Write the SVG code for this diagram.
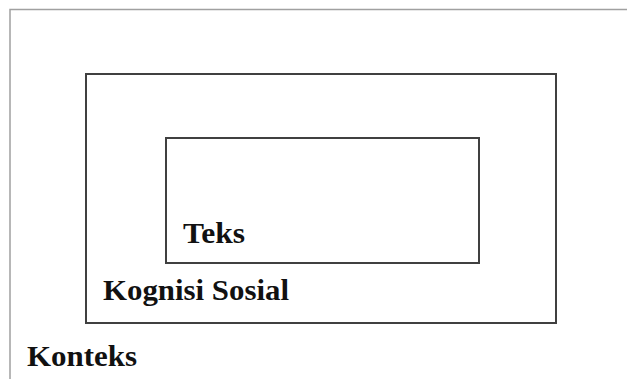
<svg xmlns="http://www.w3.org/2000/svg" width="627" height="379" viewBox="0 0 627 379">
<style>
.box{fill:none;stroke:#404040;stroke-width:2}
.frame{fill:none;stroke:#a0a0a0;stroke-width:1.5}
.lbl{font-family:"Liberation Serif","Times New Roman",serif;font-weight:bold;font-size:29px;fill:#111}
</style>
<rect width="627" height="379" fill="#fff"/>
<g id="konteks">
<path class="frame" d="M10 379 V9.5 H627"/>
<text class="lbl" x="27" y="366" textLength="110" lengthAdjust="spacingAndGlyphs">Konteks</text>
</g>
<g id="kognisi-sosial">
<rect class="box" x="86" y="74" width="470" height="249"/>
<text class="lbl" x="103" y="300" textLength="186" lengthAdjust="spacingAndGlyphs">Kognisi Sosial</text>
</g>
<g id="teks">
<rect class="box" x="166" y="138" width="313" height="125"/>
<text class="lbl" x="183" y="243" textLength="62" lengthAdjust="spacingAndGlyphs">Teks</text>
</g>
<g id="connectors"/>
</svg>
